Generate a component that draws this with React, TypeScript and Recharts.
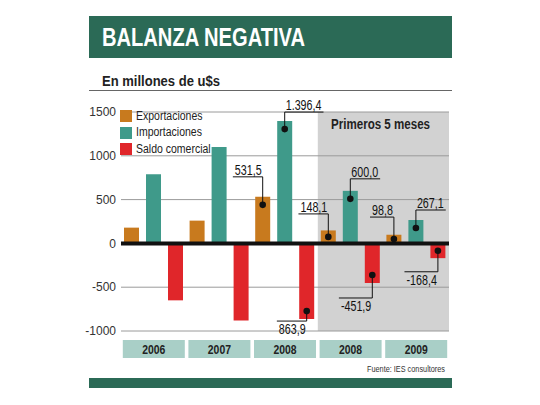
import React from "react";
import {
  BarChart,
  Bar,
  XAxis,
  YAxis,
  CartesianGrid,
  ReferenceArea,
  ReferenceLine,
  Legend,
  LabelList,
} from "recharts";

const categories = ["2006", "2007", "2008", "2008", "2009"];
const exportaciones = [180, 260, 531.5, 148.1, 98.8];
const importaciones = [790, 1100, 1396.4, 600.0, 267.1];
const saldoComercial = [-650, -880, -863.9, -451.9, -168.4];

const exportLabels = ["", "", "531,5", "148,1", "98,8"];
const importLabels = ["", "", "1.396,4", "600,0", "267,1"];
const saldoLabels = ["", "", "863,9", "-451,9", "-168,4"];

const yTicks = [-1000, -500, 0, 500, 1000, 1500];

// length of the leader line for each callout (px)
const exportLeader = [0, 0, 28, 23, 22];
const importLeader = [0, 0, 17, 20, 18];
const saldoLeader = [0, 0, 10, 23, 21];

const data = categories.map((c, i) => ({
  key: `${c}-${i}`,
  exp: exportaciones[i],
  imp: importaciones[i],
  saldo: saldoComercial[i],
}));

const SANS = '"Liberation Sans", Arial, sans-serif';

const GREEN = "#2b6a56";
const ORANGE = "#c87a1e";
const TEAL = "#3f9a8a";
const RED = "#e0262a";

const CALLOUT_SIZE = 14.5;
const CALLOUT_SCALE = 0.74;

// rough Liberation Sans advance widths for the callout strings
const textWidth = (s: string, size: number) =>
  s.split("").reduce((w, ch) => w + (/[0-9]/.test(ch) ? 0.556 : ch === "-" ? 0.333 : 0.278), 0) *
  size;

const makeCallout =
  (labels: string[], values: number[], leader: number[], side: "left" | "right") =>
  (props: any) => {
    const idx = props.index;
    const text = labels[idx];
    if (!text) return null;
    const vb = props.viewBox ?? props;
    const x = vb.x ?? props.x;
    const y = vb.y ?? props.y;
    const w = vb.width ?? props.width;
    const hRaw = vb.height ?? props.height;
    const top = Math.min(y, y + hRaw);
    const h = Math.abs(hRaw);
    const neg = values[idx] < 0;
    const cx = x + w / 2;
    const inset = Math.min(8, h / 2);
    const dotY = neg ? top + h - inset : top + inset;
    const lineY = neg ? dotY + leader[idx] : dotY - leader[idx];
    const lw = textWidth(text, CALLOUT_SIZE) * CALLOUT_SCALE + 3;
    const x2 = side === "left" ? cx - lw : cx + lw;
    const tx = side === "left" ? cx - 1 : cx + 1;
    const ty = neg ? lineY + 13 : lineY - 2;
    return (
      <g>
        <line x1={cx} y1={dotY} x2={cx} y2={lineY} stroke="#111" strokeWidth={1} />
        <line x1={cx} y1={lineY} x2={x2} y2={lineY} stroke="#111" strokeWidth={1} />
        <circle cx={cx} cy={dotY} r={3.3} fill="#111" />
        <text
          transform={`translate(${tx},${ty}) scale(${CALLOUT_SCALE},1)`}
          textAnchor={side === "left" ? "end" : "start"}
          fontFamily={SANS}
          fontSize={CALLOUT_SIZE}
          fill="#111"
        >
          {text}
        </text>
      </g>
    );
  };

const YearTick = (props: any) => {
  const { x, y, index } = props;
  return (
    <g>
      <rect x={x - 31} y={y} width={62} height={18} fill="#a9cfc7" />
      <text
        transform={`translate(${x},${y + 13.5}) scale(0.8,1)`}
        textAnchor="middle"
        fontFamily={SANS}
        fontWeight="bold"
        fontSize={13}
        fill="#222"
      >
        {categories[index]}
      </text>
    </g>
  );
};

const renderLegend = (props: any) => (
  <div>
    {(props.payload || []).map((p: any) => (
      <div key={p.value} style={{ display: "flex", alignItems: "center", height: 16.5 }}>
        <span
          style={{
            display: "inline-block",
            width: 12,
            height: 12,
            background: p.color,
            marginRight: 4,
            flex: "none",
          }}
        />
        <span
          style={{
            fontFamily: SANS,
            fontSize: 12.5,
            color: "#222",
            lineHeight: "13px",
            whiteSpace: "nowrap",
            display: "inline-block",
            transform: "scaleX(0.84)",
            transformOrigin: "left center",
          }}
        >
          {p.value}
        </span>
      </div>
    ))}
  </div>
);

const App = () => {
  return (
    <div
      style={{
        position: "absolute",
        left: 0,
        top: 0,
        width: 540,
        height: 405,
        background: "#fff",
        overflow: "hidden",
      }}
    >
      <BarChart
        width={540}
        height={405}
        data={data}
        margin={{ top: 112, right: 91, bottom: 44, left: 81 }}
        barSize={15}
        barGap={7}
      >
        <ReferenceArea
          x1={data[3].key}
          x2={data[4].key}
          y1={-1000}
          y2={1500}
          fill="#d2d2d2"
          fillOpacity={1}
          stroke="none"
          zIndex={-150}
        />
        <CartesianGrid vertical={false} stroke="#9a9a9a" strokeWidth={1} />
        <XAxis
          dataKey="key"
          axisLine={false}
          tickLine={false}
          tickSize={0}
          tickMargin={9}
          height={30}
          interval={0}
          tick={<YearTick />}
        />
        <YAxis
          domain={[-1000, 1500]}
          ticks={yTicks}
          width={40}
          axisLine={false}
          tickLine={false}
          tickSize={0}
          tickMargin={5}
          interval={0}
          tick={{ fontFamily: SANS, fontSize: 12, fill: "#333" }}
        />
        <Legend
          layout="vertical"
          align="center"
          verticalAlign="middle"
          content={renderLegend}
          wrapperStyle={{ left: 120, top: 108, width: 160, height: 50 }}
        />
        <Bar dataKey="exp" name="Exportaciones" fill={ORANGE} isAnimationActive={false}>
          <LabelList
            dataKey="exp"
            content={makeCallout(exportLabels, exportaciones, exportLeader, "left")}
          />
        </Bar>
        <Bar dataKey="imp" name="Importaciones" fill={TEAL} isAnimationActive={false}>
          <LabelList
            dataKey="imp"
            content={makeCallout(importLabels, importaciones, importLeader, "right")}
          />
        </Bar>
        <Bar dataKey="saldo" name="Saldo comercial" fill={RED} isAnimationActive={false}>
          <LabelList
            dataKey="saldo"
            content={makeCallout(saldoLabels, saldoComercial, saldoLeader, "left")}
          />
        </Bar>
        <ReferenceLine y={0} stroke="#111" strokeWidth={4} zIndex={1500} />
      </BarChart>

      <svg
        width={540}
        height={405}
        style={{ position: "absolute", left: 0, top: 0, pointerEvents: "none" }}
      >
        <rect x={89} y={16} width={363} height={42} fill={GREEN} />
        <text
          x={102}
          y={46}
          fontFamily={SANS}
          fontWeight="bold"
          fontSize={25}
          fill="#fff"
          textLength={203}
          lengthAdjust="spacingAndGlyphs"
        >
          BALANZA NEGATIVA
        </text>
        <text
          x={102}
          y={86}
          fontFamily={SANS}
          fontWeight="bold"
          fontSize={14}
          fill="#222"
          textLength={118}
          lengthAdjust="spacingAndGlyphs"
        >
          En millones de u$s
        </text>
        <line x1={89} y1={90.5} x2={452} y2={90.5} stroke="#666" strokeWidth={1} />
        <text
          x={331}
          y={129}
          fontFamily={SANS}
          fontWeight="bold"
          fontSize={14}
          fill="#222"
          textLength={99}
          lengthAdjust="spacingAndGlyphs"
        >
          Primeros 5 meses
        </text>
        <text
          x={367}
          y={372}
          fontFamily={SANS}
          fontSize={9.5}
          fill="#333"
          textLength={78}
          lengthAdjust="spacingAndGlyphs"
        >
          Fuente: IES consultores
        </text>
        <rect x={89} y={378} width={363} height={10} fill={GREEN} />
      </svg>
    </div>
  );
};

export default App;
